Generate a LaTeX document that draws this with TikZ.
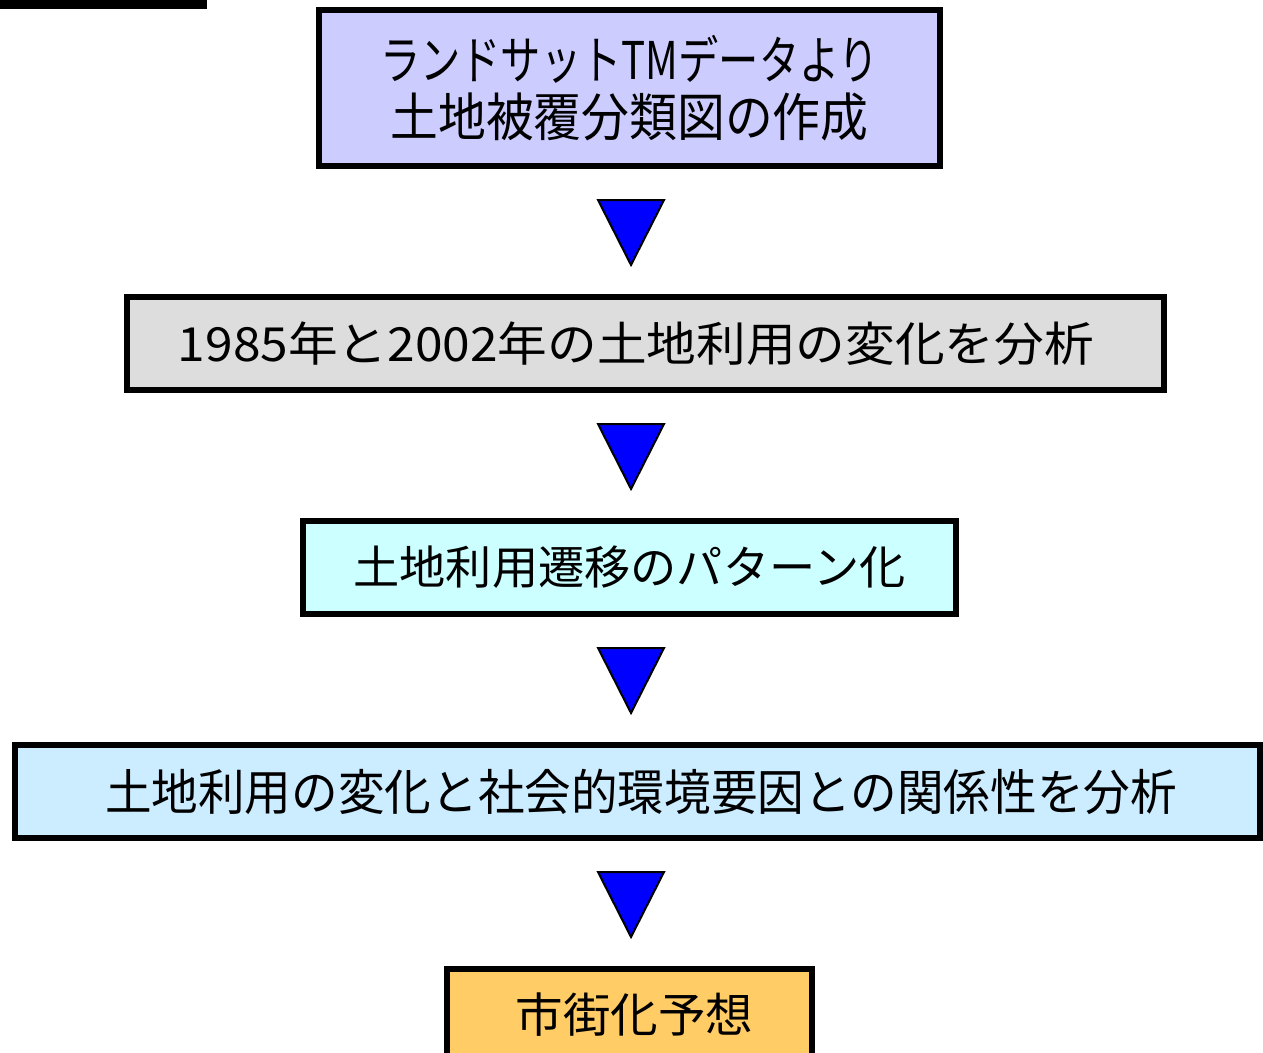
\documentclass[tikz,border=0pt]{standalone}
\usepackage{fontspec}
\usepackage{graphicx}
\setmainfont{Noto Sans CJK JP}
\definecolor{cA}{HTML}{CCCCFF}
\definecolor{cB}{HTML}{DDDDDD}
\definecolor{cC}{HTML}{CCFFFF}
\definecolor{cD}{HTML}{CCECFF}
\definecolor{cE}{HTML}{FFCC66}
\definecolor{tri}{HTML}{0000FF}
\newcommand\fitx[2]{\resizebox{#1}{\height}{#2}}
\begin{document}
\begin{tikzpicture}[x=1pt,y=-1pt,
  box/.style={draw=black,line width=6pt,inner sep=0pt,outer sep=0pt,align=center,rectangle},
  arr/.style={draw=black,line width=2pt,fill=tri,line join=miter}]
\useasboundingbox (0,0) rectangle (1263,1052);
\clip (0,0) rectangle (1263,1052);
\fill[black] (0,0) rectangle (207,9);
\node[box,fill=cA,minimum width=621pt,minimum height=156pt,font=\fontsize{52}{57}\selectfont] (b1) at (629.5,88)
  {\fitx{499pt}{ランドサットTMデータより}\\\fitx{478pt}{土地被覆分類図の作成}};
\node[box,fill=cB,minimum width=1037pt,minimum height=93pt,font=\fontsize{47}{50}\selectfont] (b2) at (645.5,343.5)
  {\fitx{916pt}{1985年と2002年の土地利用の変化を分析}\hspace*{19pt}};
\node[box,fill=cC,minimum width=653pt,minimum height=93pt,font=\fontsize{46}{50}\selectfont] (b3) at (629.5,567.5)
  {\fitx{552pt}{土地利用遷移のパターン化}};
\node[box,fill=cD,minimum width=1245pt,minimum height=93pt,font=\fontsize{49}{52}\selectfont] (b4) at (637.5,791.5)
  {\hspace*{7pt}\fitx{1072pt}{土地利用の変化と社会的環境要因との関係性を分析}};
\node[box,fill=cE,minimum width=365pt,minimum height=91pt,font=\fontsize{47}{50}\selectfont] (b5) at (629.5,1014.5)
  {\hspace*{10pt}\fitx{238pt}{市街化予想}};
\foreach \y/\n in {200/t1,424/t2,648/t3,872/t4}{
  \coordinate (\n) at (631,\y);
  \draw[arr] ([xshift=-33pt]\n) -- ([xshift=33pt]\n) -- ([yshift=-65pt]\n) -- cycle;
}
\end{tikzpicture}
\end{document}
